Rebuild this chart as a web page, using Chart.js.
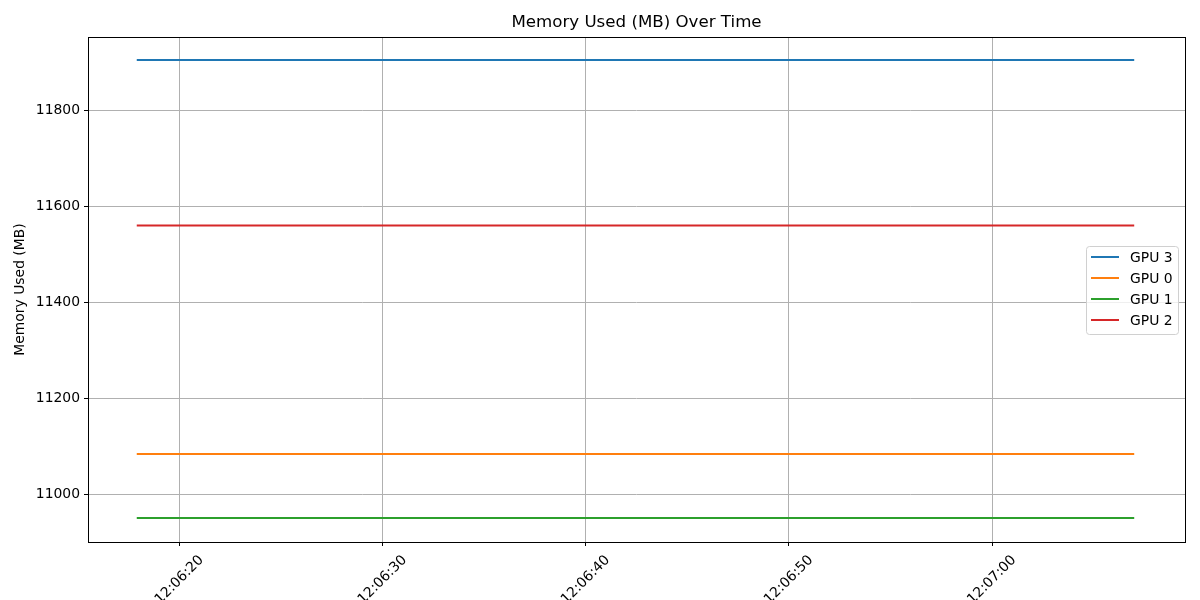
<!DOCTYPE html>
<html>
<head>
<meta charset="utf-8">
<script src="https://cdn.jsdelivr.net/npm/chart.js@4.4.1/dist/chart.umd.min.js"></script>
<style>
  html, body { margin: 0; padding: 0; background: #fff; }
  #wrap { width: 1200px; height: 600px; }
</style>
</head>
<body>
<div id="wrap"><canvas id="mem-chart" width="1200" height="600"></canvas></div>
<script>
// seconds after 12:06:00
const times = [17.9, 20.0, 22.1, 24.1, 26.2, 28.3, 30.3, 32.4, 34.5, 36.5, 38.6, 40.7, 42.7, 44.8,
  46.9, 48.9, 51.0, 53.1, 55.1, 57.2, 59.3, 61.3, 63.4, 65.5, 67.0];
const gpu3 = [11904, 11904, 11904, 11904, 11904, 11904, 11904, 11904, 11904, 11904, 11904, 11904, 11904,
  11904, 11904, 11904, 11904, 11904, 11904, 11904, 11904, 11904, 11904, 11904, 11904];
const gpu0 = [11085, 11085, 11085, 11085, 11085, 11085, 11085, 11085, 11085, 11085, 11085, 11085, 11085,
  11085, 11085, 11085, 11085, 11085, 11085, 11085, 11085, 11085, 11085, 11085, 11085];
const gpu1 = [10952, 10952, 10952, 10952, 10952, 10952, 10952, 10952, 10952, 10952, 10952, 10952, 10952,
  10952, 10952, 10952, 10952, 10952, 10952, 10952, 10952, 10952, 10952, 10952, 10952];
const gpu2 = [11560, 11560, 11560, 11560, 11560, 11560, 11560, 11560, 11560, 11560, 11560, 11560, 11560,
  11560, 11560, 11560, 11560, 11560, 11560, 11560, 11560, 11560, 11560, 11560, 11560];
const seriesNames = ['GPU 3', 'GPU 0', 'GPU 1', 'GPU 2'];
const seriesColors = ['#1f77b4', '#ff7f0e', '#2ca02c', '#d62728'];
const xTicks = [20, 30, 40, 50, 60];
const yTicks = [11000, 11200, 11400, 11600, 11800];

const FONT = 'DejaVu Sans';
const TICK_PX = 13.9;

function fmtTime(s) {
  const total = 12 * 3600 + 6 * 60 + Math.round(s);
  const h = Math.floor(total / 3600);
  const m = Math.floor((total % 3600) / 60);
  const sec = total % 60;
  return String(h).padStart(2, '0') + ':' + String(m).padStart(2, '0') + ':' + String(sec).padStart(2, '0');
}

const toPoints = vals => vals.map((v, i) => ({ x: times[i], y: v }));

const frame = {
  id: 'frame',
  afterDraw(chart) {
    const { ctx, chartArea: a } = chart;
    ctx.save();
    ctx.strokeStyle = '#000';
    ctx.lineWidth = 1;
    ctx.strokeRect(Math.round(a.left) + 0.5, Math.round(a.top) + 0.5,
      Math.round(a.right - a.left), Math.round(a.bottom - a.top));

    // title
    ctx.fillStyle = '#000';
    ctx.font = '16.67px "' + FONT + '"';
    ctx.textAlign = 'center';
    ctx.textBaseline = 'middle';
    ctx.fillText('Memory Used (MB) Over Time', (a.left + a.right) / 2, 23);

    // x tick labels, rotated 45deg about their centre (matplotlib style)
    const xs = chart.scales.x;
    ctx.font = TICK_PX + 'px "' + FONT + '"';
    xTicks.forEach(v => {
      const px = xs.getPixelForValue(v);
      const txt = fmtTime(v);
      const w = ctx.measureText(txt).width;
      const half = (w + TICK_PX) * Math.SQRT1_2 / 2;
      ctx.save();
      ctx.translate(px, a.bottom + 11 + half);
      ctx.rotate(-Math.PI / 4);
      ctx.textAlign = 'center';
      ctx.textBaseline = 'middle';
      ctx.fillText(txt, 0, 0);
      ctx.restore();
    });

    // legend box
    const bx = 1086, by = 246, bw = 92, bh = 88;
    ctx.fillStyle = 'rgba(255,255,255,0.8)';
    ctx.strokeStyle = '#d0d0d0';
    ctx.lineWidth = 1;
    ctx.beginPath();
    ctx.roundRect(bx + 0.5, by + 0.5, bw, bh, 3);
    ctx.fill();
    ctx.stroke();
    ctx.font = TICK_PX + 'px "' + FONT + '"';
    ctx.textAlign = 'left';
    ctx.textBaseline = 'middle';
    chart.data.datasets.forEach((ds, i) => {
      const yy = by + 11 + i * 21;
      ctx.strokeStyle = ds.borderColor;
      ctx.lineWidth = 2;
      ctx.beginPath();
      ctx.moveTo(bx + 5, yy);
      ctx.lineTo(bx + 33, yy);
      ctx.stroke();
      ctx.fillStyle = '#000';
      ctx.fillText(ds.label, bx + 44, yy + 1);
    });
    ctx.restore();
  }
};

new Chart(document.getElementById('mem-chart').getContext('2d'), {
  type: 'line',
  data: {
    datasets: [gpu3, gpu0, gpu1, gpu2].map((vals, i) => ({
      label: seriesNames[i],
      data: toPoints(vals),
      borderColor: seriesColors[i],
      backgroundColor: seriesColors[i],
      borderWidth: 2,
      pointRadius: 0,
      tension: 0
    }))
  },
  options: {
    responsive: false,
    animation: false,
    layout: { padding: { top: 37, right: 15, left: 0, bottom: 0 } },
    plugins: {
      legend: { display: false },
      title: { display: false },
      tooltip: { enabled: false }
    },
    scales: {
      x: {
        type: 'linear',
        min: 15.5,
        max: 69.5,
        afterBuildTicks: s => { s.ticks = xTicks.map(v => ({ value: v })); },
        afterFit: s => { s.height = 58; },
        ticks: { display: false },
        grid: { color: '#b0b0b0', lineWidth: 1, tickColor: '#000', tickLength: 4 },
        border: { display: false }
      },
      y: {
        min: 10902,
        max: 11952,
        afterBuildTicks: s => { s.ticks = yTicks.map(v => ({ value: v })); },
        afterFit: s => { s.width = 88; },
        title: {
          display: true,
          text: 'Memory Used (MB)',
          color: '#000',
          font: { family: FONT, size: 13.9 },
          padding: { top: 12, bottom: 4 }
        },
        ticks: {
          color: '#000',
          font: { family: FONT, size: TICK_PX },
          padding: 4,
          callback: v => String(v)
        },
        grid: { color: '#b0b0b0', lineWidth: 1, tickColor: '#000', tickLength: 4 },
        border: { display: false }
      }
    }
  },
  plugins: [frame]
});
</script>
</body>
</html>
